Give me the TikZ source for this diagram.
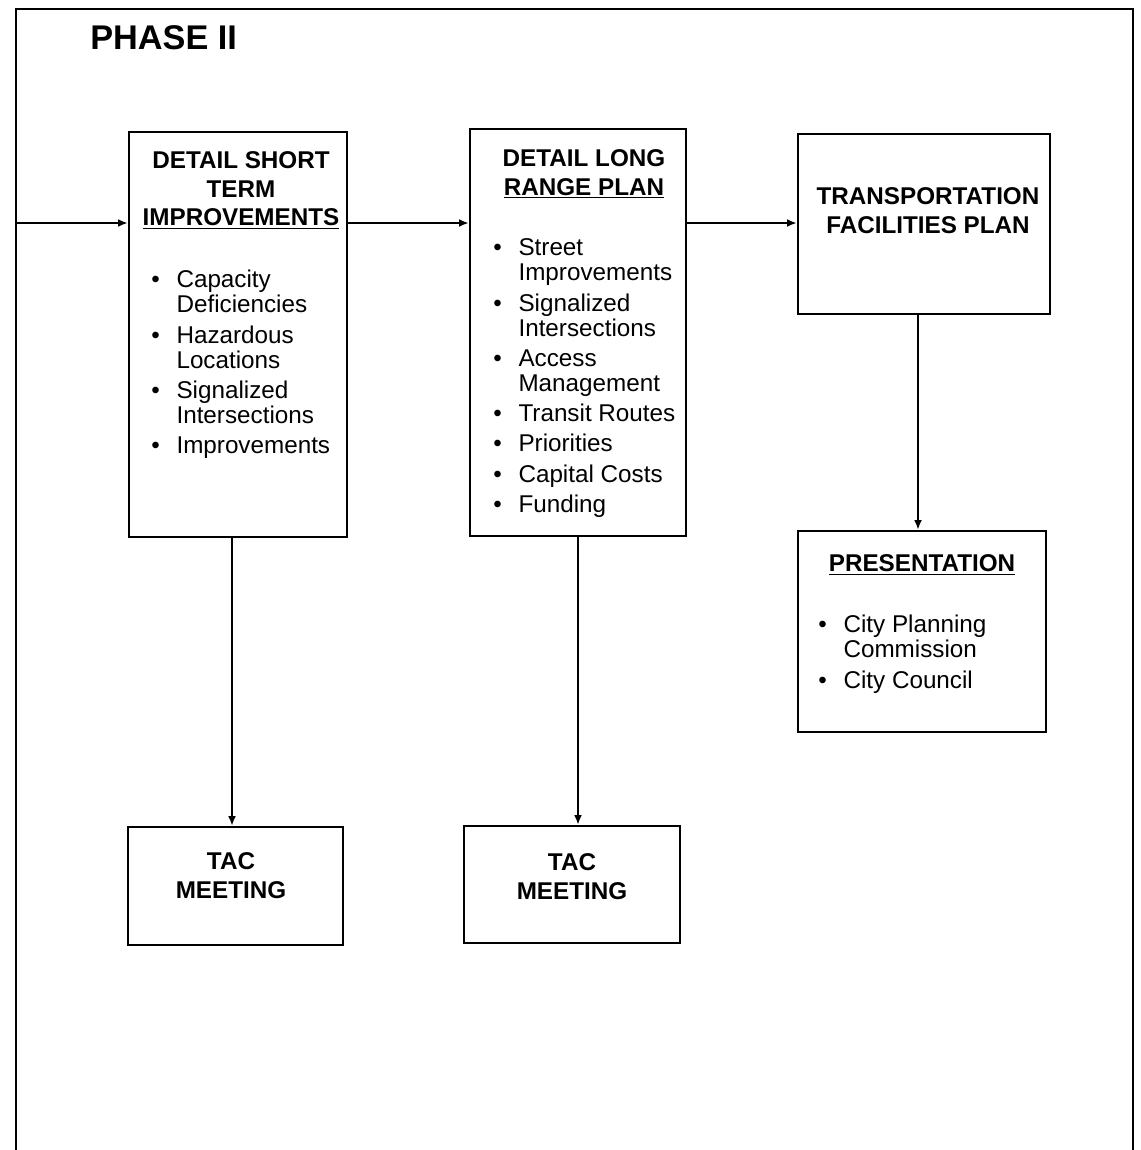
\documentclass[tikz,border=0pt]{standalone}
\usepackage{fontspec}
\setmainfont{Liberation Sans}
\usetikzlibrary{arrows.meta,fit}

\tikzset{
	box/.style={draw, line width=1.4pt, inner sep=0pt},
	head/.style={font=\bfseries\fontsize{13.8}{16.4}\selectfont, align=center, anchor=north, inner sep=0pt},
	items/.style={font=\fontsize{13.8}{14.2}\selectfont, anchor=north west, inner sep=0pt},
	arr/.style={line width=1.3pt, -{Latex[length=5.5pt,width=4.5pt]}},
}
\newcommand{\itemlist}[1]{\begin{tabular}{@{}l@{\hspace{9.5pt}}l@{}}#1\end{tabular}}

\begin{document}
\begin{tikzpicture}[x=0.02cm, y=-0.02cm]
		\useasboundingbox (0,0) rectangle (1141,1150);
		\draw[line width=1.6pt] (16,1150) |- (1133,9) -- (1133,1150);
		\node[font=\bfseries\fontsize{19.5}{22}\selectfont, anchor=north west, inner sep=0pt] (title) at (90,25) {PHASE II};

		\node[box, fit={(129,132) (347,537)}] (dst) {};
		\node[box, fit={(470,129) (686,536)}] (dlr) {};
		\node[box, fit={(798,134) (1050,314)}] (tfp) {};
		\node[box, fit={(798,531) (1046,732)}] (pres) {};
		\node[box, fit={(128,827) (343,945)}] (tac1) {};
		\node[box, fit={(464,826) (680,943)}] (tac2) {};

		\node[head] (dst-head) at (241,151) {DETAIL SHORT\\TERM\\\underline{IMPROVEMENTS}};
		\node[items] (dst-list) at (151,270) {\itemlist{
			\textbullet & Capacity\\ & Deficiencies\\[3pt]
			\textbullet & Hazardous\\ & Locations\\[3pt]
			\textbullet & Signalized\\ & Intersections\\[3pt]
			\textbullet & Improvements}};

		\node[head] (dlr-head) at (584,149) {DETAIL LONG\\\underline{RANGE PLAN}};
		\node[items] (dlr-list) at (493,238) {\itemlist{
			\textbullet & Street\\ & Improvements\\[3pt]
			\textbullet & Signalized\\ & Intersections\\[3pt]
			\textbullet & Access\\ & Management\\[3pt]
			\textbullet & Transit Routes\\[3pt]
			\textbullet & Priorities\\[3pt]
			\textbullet & Capital Costs\\[3pt]
			\textbullet & Funding}};

		\node[head] (tfp-head) at (928,187) {TRANSPORTATION\\FACILITIES PLAN};

		\node[head] (pres-head) at (922,554) {\underline{PRESENTATION}};
		\node[items] (pres-list) at (818,615) {\itemlist{
			\textbullet & City Planning\\ & Commission\\[3pt]
			\textbullet & City Council}};

		\node[head] (tac1-head) at (231,852) {TAC\\MEETING};
		\node[head] (tac2-head) at (572,853) {TAC\\MEETING};

		\coordinate (start) at (16,223);
		\draw[arr] (start) -- (start -| dst.west);
		\draw[arr] (dst.east |- start) -- (dlr.west |- start);
		\draw[arr] (dlr.east |- start) -- (tfp.west |- start);
		\draw[arr] ([xshift=-0.12cm]tfp.south) -- ([xshift=-0.12cm]tfp.south |- pres.north);
		\draw[arr] ([xshift=-0.12cm]dst.south) -- ([xshift=-0.12cm]dst.south |- tac1.north);
		\draw[arr] (dlr.south) -- (dlr.south |- tac2.north);
	\end{tikzpicture}
\end{document}
